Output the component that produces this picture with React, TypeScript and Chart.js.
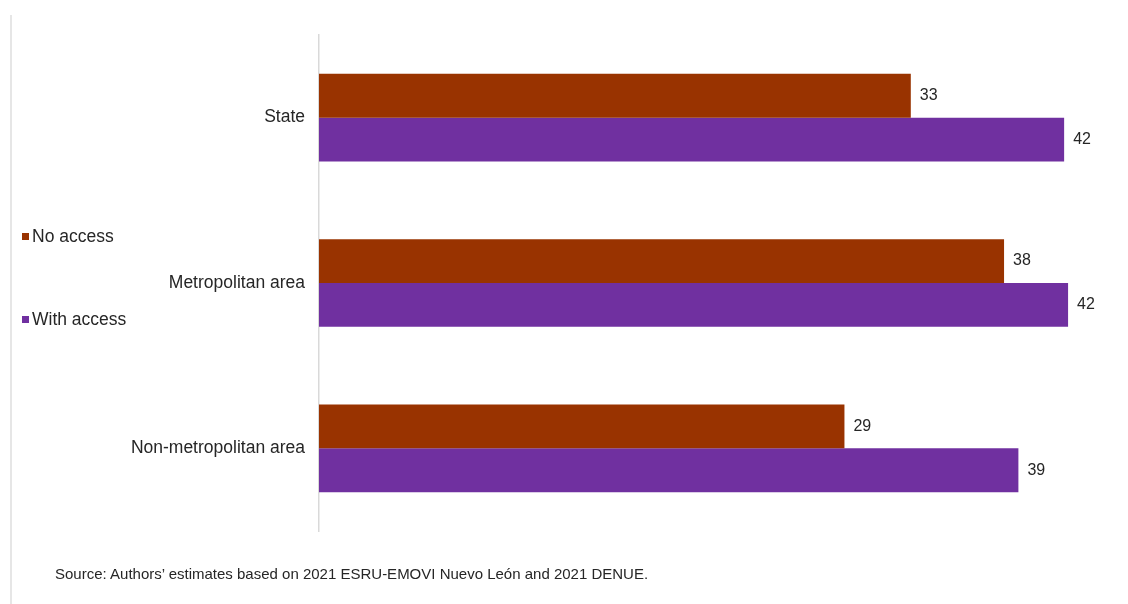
import React, { useEffect, useRef } from "react";
import { Chart, registerables } from "chart.js";

Chart.register(...registerables);

const categories = ["State", "Metropolitan area", "Non-metropolitan area"];
const noAccess = [33.0, 38.2, 29.3];
const withAccess = [41.55, 41.77, 39.0];
const seriesNames = ["No access", "With access"];
const colors = ["#993300", "#7030A0"];
const sourceText = "Source: Authors\u2019 estimates based on 2021 ESRU-EMOVI Nuevo Le\u00f3n and 2021 DENUE.";

const FONT = "'Liberation Sans', Arial, sans-serif";

const valueLabels = {
  id: "valueLabels",
  afterDatasetsDraw(chart: any) {
    const ctx = chart.ctx;
    ctx.save();
    ctx.font = `16px ${FONT}`;
    ctx.fillStyle = "#262626";
    ctx.textAlign = "left";
    ctx.textBaseline = "middle";
    chart.data.datasets.forEach((ds: any, i: number) => {
      const meta = chart.getDatasetMeta(i);
      meta.data.forEach((bar: any, j: number) => {
        const v = ds.data[j];
        ctx.fillText(String(Math.round(v)), bar.x + 9, bar.y);
      });
    });
    ctx.restore();
  },
};

export default function App() {
  const ref = useRef<HTMLCanvasElement | null>(null);
  useEffect(() => {
    if (!ref.current) return;
    const chart = new Chart(ref.current, {
      type: "bar",
      data: {
        labels: categories,
        datasets: [
          { label: seriesNames[0], data: noAccess, backgroundColor: colors[0], borderWidth: 0 },
          { label: seriesNames[1], data: withAccess, backgroundColor: colors[1], borderWidth: 0 },
        ],
      },
      options: {
        indexAxis: "y",
        animation: false,
        responsive: false,
        maintainAspectRatio: false,
        layout: { padding: { top: 35, bottom: 73, left: 0, right: 2 } },
        datasets: {
          bar: { categoryPercentage: 0.53, barPercentage: 1 },
        },
        plugins: {
          legend: { display: false },
          tooltip: { enabled: false },
        },
        scales: {
          x: {
            display: false,
            min: 0,
            max: 45,
          },
          y: {
            grid: { display: false },
            border: { display: true, color: "#d9d9d9", width: 1.5 },
            ticks: {
              color: "#262626",
              font: { family: FONT, size: 17.5 },
              padding: 6,
            },
            afterFit(scale: any) {
              scale.width = 319;
            },
          },
        },
      },
      plugins: [valueLabels],
    } as any);
    return () => chart.destroy();
  }, []);

  return (
    <div
      style={{
        position: "absolute",
        left: 0,
        top: 0,
        width: 1128,
        height: 604,
        background: "#fff",
        fontFamily: FONT,
        overflow: "hidden",
      }}
    >
      <div
        style={{
          position: "absolute",
          left: 10,
          top: 15,
          width: 2,
          height: 589,
          background: "#e6e6e6",
        }}
      />
      <canvas ref={ref} width={1128} height={604} style={{ position: "absolute", left: 0, top: 0 }} />
      {seriesNames.map((name, i) => (
        <div
          key={name}
          style={{
            position: "absolute",
            left: 22,
            top: i === 0 ? 226 : 309,
            height: 20,
            display: "flex",
            alignItems: "center",
            fontSize: 17.5,
            color: "#262626",
            whiteSpace: "nowrap",
          }}
        >
          <span style={{ display: "inline-block", width: 7, height: 7, background: colors[i], marginRight: 3 }} />
          {name}
        </div>
      ))}
      <div
        style={{
          position: "absolute",
          left: 55,
          top: 565,
          fontSize: 15,
          color: "#262626",
          whiteSpace: "nowrap",
        }}
      >
        {sourceText}
      </div>
    </div>
  );
}
